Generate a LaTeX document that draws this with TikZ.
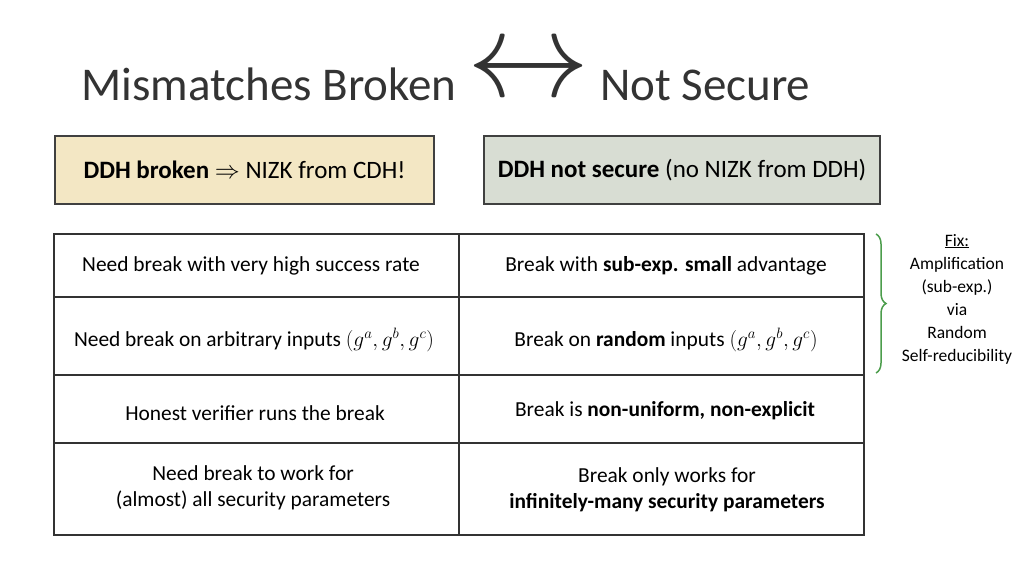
\RequirePackage{fix-cm}
\documentclass[tikz,border=0pt]{standalone}
\usepackage{graphicx}
\usepackage{fontspec}
\setmainfont{Carlito}
\usetikzlibrary{decorations.pathreplacing}
\begin{document}
\begin{tikzpicture}[x=1pt,y=-1pt,
  topbox/.style={draw=black!75,line width=1.6pt,minimum width=379pt,minimum height=68pt,font=\fontsize{25}{28}\selectfont},
  cell/.style={font=\fontsize{21.4}{26}\selectfont,align=center},
  side/.style={font=\fontsize{17.5}{23}\selectfont,align=center}]
\useasboundingbox (0,0) rectangle (1024,576);
\node[anchor=base west,font=\fontsize{47}{52}\selectfont,text=black!80] (title) at (78,100) {Mismatches Broken \raisebox{4pt}{\scalebox{2.6}{$\leftrightarrow$}} Not Secure};
\definecolor{beige}{HTML}{F3E7C4}
\definecolor{grayg}{HTML}{D8DDD3}
\node[topbox,fill=beige] (b1) at (244.5,170) {\textbf{DDH broken} $\Rightarrow$ NIZK from CDH!};
\node[topbox,fill=grayg,minimum width=396pt] (b2) at (682,170) {\textbf{DDH not secure} (no NIZK from DDH)};
\draw[black!80,line width=1.2pt] (54,234) rectangle (864,535);
\foreach \y in {297,375,443} \draw[black!80,line width=1.2pt] (54,\y) -- (864,\y);
\draw[black!80,line width=1.2pt] (459,234) -- (459,535);
\node[cell] (l1) at (251,266) {Need break with very high success rate};
\node[cell] (r1) at (666,266) {Break with \textbf{sub-exp. small} advantage};
\node[cell] (l2) at (254,340) {Need break on arbitrary inputs $(g^a,g^b,g^c)$};
\node[cell] (r2) at (666,340) {Break on \textbf{random} inputs $(g^a,g^b,g^c)$};
\node[cell] (l3) at (255,413) {Honest verifier runs the break};
\node[cell] (r3) at (665,411) {Break is \textbf{non-uniform, non-explicit}};
\node[cell] (l4) at (253,488) {Need break to work for\\(almost) all security parameters};
\node[cell] (r4) at (667,490) {Break only works for\\\textbf{infinitely-many security parameters}};
\draw[draw=green!45!black!70,line width=1.5pt,decorate,decoration={brace,amplitude=10pt}] (876,234) -- (876,373);
\node[side] (fix) at (957,299) {\underline{Fix:}\\Amplification\\(sub-exp.)\\via\\Random\\Self-reducibility};
\end{tikzpicture}
\end{document}
